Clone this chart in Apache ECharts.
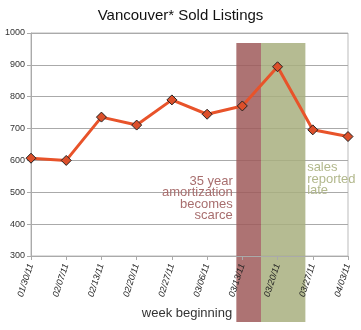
<!DOCTYPE html>
<html><head><meta charset="utf-8">
<script src="https://cdn.jsdelivr.net/npm/echarts@6/dist/echarts.min.js"></script>
<style>html,body{margin:0;padding:0;background:#fff}#c{width:361px;height:330px}</style>
</head><body><div id="c"></div>
<script>
const categories = ['01/30/11','02/07/11','02/13/11','02/20/11','02/27/11','03/06/11','03/13/11','03/20/11','03/27/11','04/03/11'];
const soldListings = [607, 600, 736, 711, 790, 745, 771, 894, 696, 675];
const yTicks = [300, 1000, 100];
// annotation bands, in category-index units, value top / bottom
const redBand = [5.83, 6.53];
const greenBand = [6.53, 7.79];
const bandValueRange = [969, 93];
const noteRed = ['35 year', 'amortization', 'becomes', 'scarce'];
const noteGreen = ['sales', 'reported', 'late'];

const chart = echarts.init(document.getElementById('c'));
const option = {
  animation: false,
  title: {text: 'Vancouver* Sold Listings', left: 'center', top: 3,
    textStyle: {fontFamily: 'Liberation Sans', fontSize: 15, fontWeight: 'normal', color: '#111'}},
  grid: {left: 31, right: 13, top: 33, bottom: 74, show: true, borderColor: '#bbb', borderWidth: 1},
  xAxis: {type: 'category', data: categories, boundaryGap: false, z: 3,
    name: 'week beginning', nameLocation: 'middle', nameGap: 51,
    nameTextStyle: {fontFamily: 'Liberation Sans', fontSize: 13, color: '#333', padding: [0,5,0,0]},
    axisLine: {lineStyle: {color: '#aaa'}},
    axisTick: {alignWithLabel: true, length: 4, lineStyle: {color: '#aaa'}},
    axisLabel: {rotate: 72, fontSize: 9, fontFamily: 'Liberation Sans', fontStyle: 'italic', color: '#222', margin: 8, interval: 0},
    splitLine: {show: false}},
  yAxis: {type: 'value', min: yTicks[0], max: yTicks[1], interval: yTicks[2],
    axisLine: {show: true, lineStyle: {color: '#aaa'}},
    axisTick: {show: true, length: 4, lineStyle: {color: '#aaa'}},
    axisLabel: {fontSize: 9, fontFamily: 'Liberation Sans', color: '#333', margin: 6, formatter: v => String(v)},
    splitLine: {lineStyle: {color: '#aaa'}}},
  series: [{type: 'line', data: soldListings, symbol: 'diamond', symbolSize: 10,
    lineStyle: {color: '#e8532a', width: 3},
    itemStyle: {color: '#dc4f2a', borderColor: '#222', borderWidth: 1}, z: 5}]
};
chart.setOption(option);

function px(idx, val) {
  const a = chart.convertToPixel({gridIndex: 0}, [0, 300]);
  const b = chart.convertToPixel({gridIndex: 0}, [1, 1000]);
  const step = b[0] - a[0];
  const vscale = (a[1] - b[1]) / 700;
  return [a[0] + idx * step, a[1] - (val - 300) * vscale];
}
const r1 = px(redBand[0], bandValueRange[0]), r2 = px(redBand[1], bandValueRange[1]);
const g1 = px(greenBand[0], bandValueRange[0]), g2 = px(greenBand[1], bandValueRange[1]);
const t1 = px(redBand[0] - 0.1, 553);
const t2 = px(greenBand[1] + 0.05, 595);
chart.setOption({graphic: [
  {type: 'rect', z: 1, shape: {x: r1[0], y: r1[1], width: r2[0]-r1[0], height: r2[1]-r1[1]}, style: {fill: 'rgba(159,91,91,0.85)'}},
  {type: 'rect', z: 1, shape: {x: g1[0], y: g1[1], width: g2[0]-g1[0], height: g2[1]-g1[1]}, style: {fill: 'rgba(168,175,127,0.85)'}},
  {type: 'text', z: 10, x: t1[0], y: t1[1], style: {text: noteRed.join('\n'), align: 'right', verticalAlign: 'top',
    font: '13px "Liberation Sans"', fill: '#a86e6e', lineHeight: 11.5}},
  {type: 'text', z: 10, x: t2[0], y: t2[1], style: {text: noteGreen.join('\n'), align: 'left', verticalAlign: 'top',
    font: '13px "Liberation Sans"', fill: '#b2b88c', lineHeight: 11.5}}
]});
</script></body></html>
